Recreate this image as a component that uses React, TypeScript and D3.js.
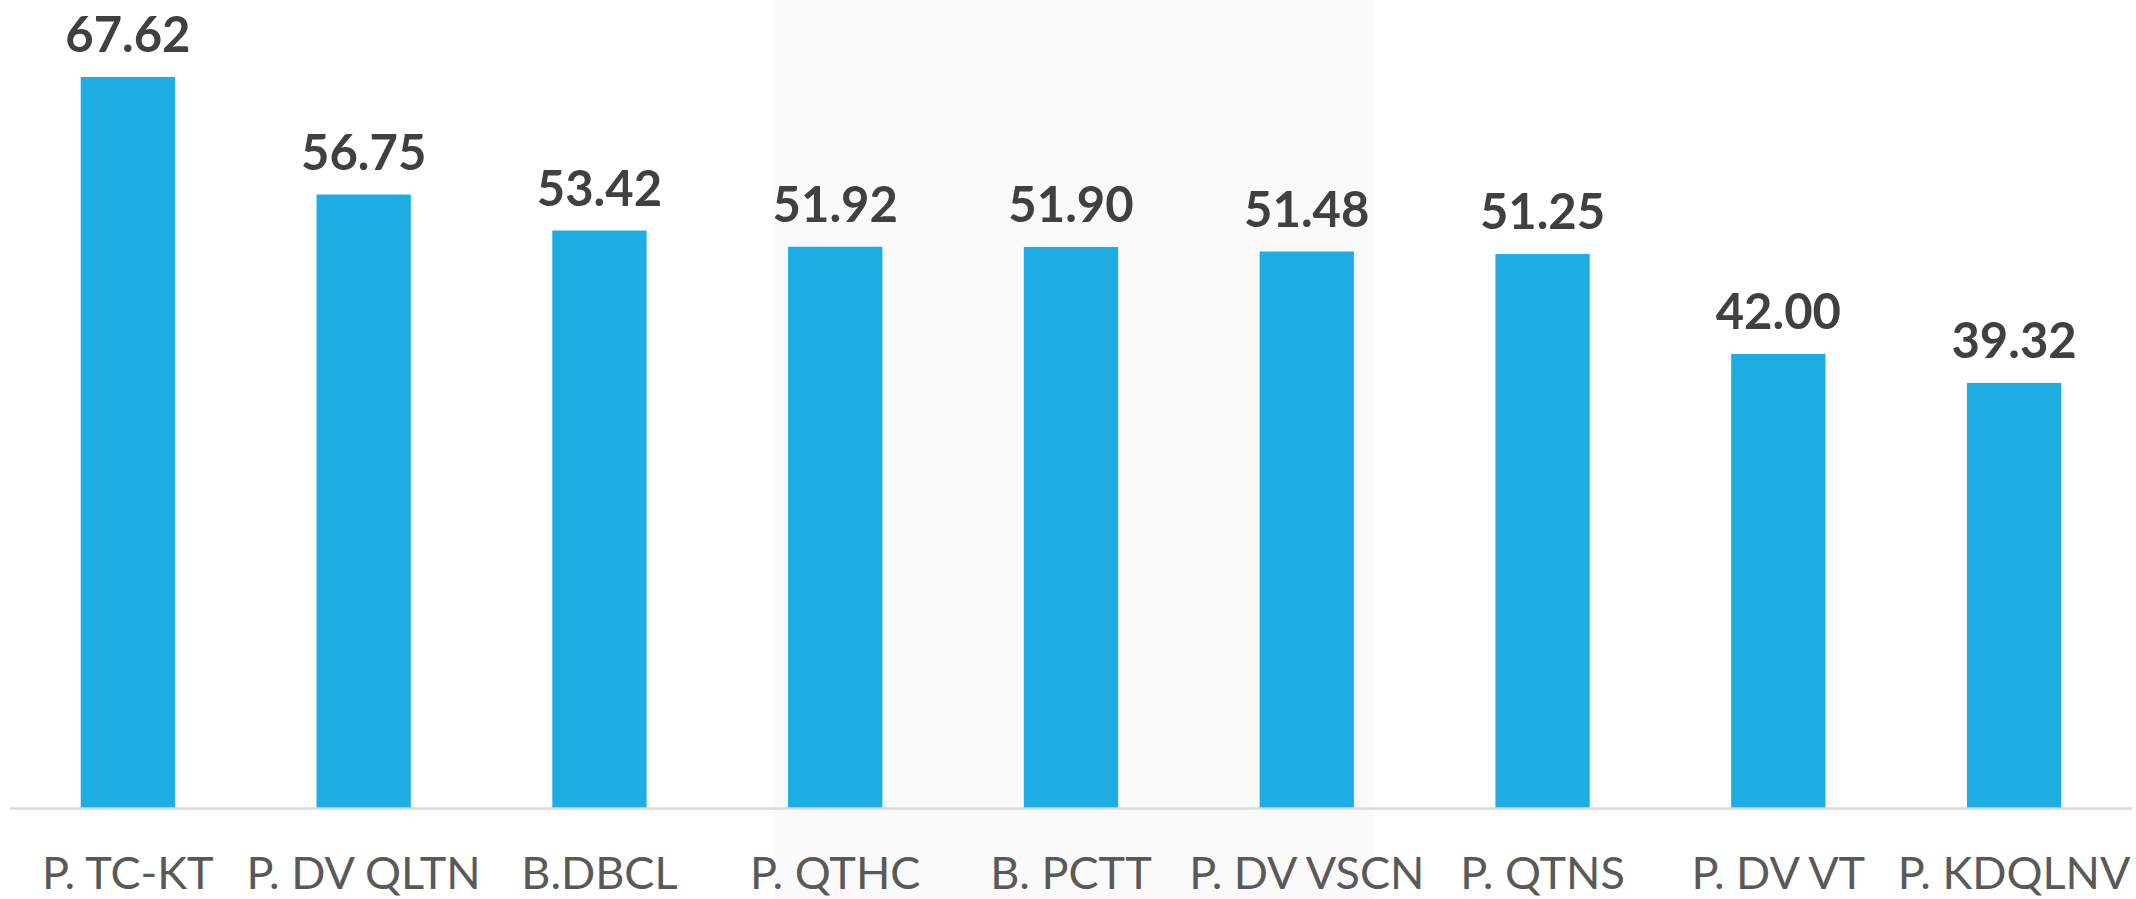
import React from 'react';
import * as d3 from 'd3';

const categories = [
  'P. TC-KT',
  'P. DV QLTN',
  'B.DBCL',
  'P. QTHC',
  'B. PCTT',
  'P. DV VSCN',
  'P. QTNS',
  'P. DV VT',
  'P. KDQLNV',
];
const values = [67.62, 56.75, 53.42, 51.92, 51.9, 51.48, 51.25, 42.0, 39.32];
// categories covered by the light grey highlight behind the bars
const highlighted = ['P. QTHC', 'P. DV VSCN'];

const WIDTH = 2136;
const HEIGHT = 899;

export default function App() {
  const margin = { left: 10, right: 4, baseline: 808 };

  const x = d3
    .scaleBand<string>()
    .domain(categories)
    .range([margin.left, WIDTH - margin.right])
    .paddingInner(0.6)
    .paddingOuter(0.3);

  const y = d3.scaleLinear().domain([0, 70]).range([margin.baseline, margin.baseline - 70 * 10.81]);

  const font = 'Lato, "Open Sans", sans-serif';
  const hlStart = (x(highlighted[0]) ?? 0) - 14;
  const hlEnd = (x(highlighted[1]) ?? 0) + x.bandwidth() + 19;

  return (
    <svg
      width={WIDTH}
      height={HEIGHT}
      style={{ display: 'block', position: 'absolute', left: 0, top: 0, background: '#fff' }}
    >
      {/* highlight band */}
      <rect x={hlStart} y={0} width={hlEnd - hlStart} height={HEIGHT} fill="#fafafa" />

      {/* bars */}
      {categories.map((c, i) => (
        <rect
          key={c}
          x={x(c)}
          y={y(values[i])}
          width={x.bandwidth()}
          height={y(0) - y(values[i])}
          fill="#1eade3"
        />
      ))}

      {/* axis line */}
      <line
        x1={margin.left}
        x2={WIDTH - margin.right}
        y1={y(0) + 0.5}
        y2={y(0) + 0.5}
        stroke="#d9d9d9"
        strokeWidth={2.5}
      />

      {/* value labels */}
      {categories.map((c, i) => (
        <text
          key={'v' + c}
          x={(x(c) ?? 0) + x.bandwidth() / 2}
          y={y(values[i]) - 25}
          textAnchor="middle"
          fontFamily={font}
          fontWeight={700}
          fontSize={49}
          fill="#404040"
        >
          {values[i].toFixed(2)}
        </text>
      ))}

      {/* category labels */}
      {categories.map((c) => (
        <text
          key={'c' + c}
          x={(x(c) ?? 0) + x.bandwidth() / 2}
          y={889}
          textAnchor="middle"
          fontFamily={font}
          fontSize={45}
          fill="#595959"
        >
          {c}
        </text>
      ))}
    </svg>
  );
}
